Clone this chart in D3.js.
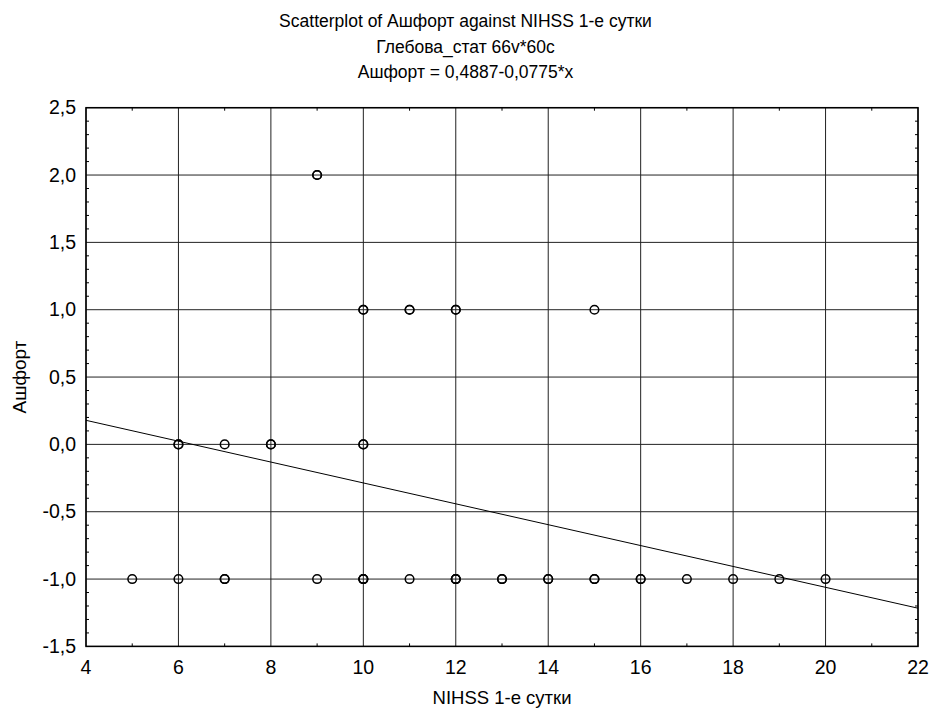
<!DOCTYPE html>
<html>
<head>
<meta charset="utf-8">
<script src="https://cdn.jsdelivr.net/npm/d3@7"></script>
<style>
  body { margin: 0; background: #fff; }
  text { font-family: "Liberation Sans", Arial, sans-serif; fill: #000; }
</style>
</head>
<body>
<div id="chart"></div>
<script>
// Titles
const titleLines = [
    "Scatterplot of Ашфорт against NIHSS 1-е сутки",
    "Глебова_стат 66v*60c",
    "Ашфорт = 0,4887-0,0775*x"
];
const xLabel = "NIHSS 1-е сутки";
const yLabel = "Ашфорт";

// Observations (repeated values overlap on the plot)
const xValues = [
    5, 6, 7, 7, 9, 10, 10, 10, 11, 12, 12, 12, 13, 13, 14, 14, 15, 15, 16, 16, 17, 18, 19, 20,
    6, 6, 7, 8, 8, 10, 10,
    10, 10, 11, 11, 12, 12, 15,
    9, 9
];
const yValues = [
    -1, -1, -1, -1, -1, -1, -1, -1, -1, -1, -1, -1, -1, -1, -1, -1, -1, -1, -1, -1, -1, -1, -1, -1,
    0, 0, 0, 0, 0, 0, 0,
    1, 1, 1, 1, 1, 1, 1,
    2, 2
];

// Regression line
const intercept = 0.4887;
const slope = -0.0775;

// Axis ticks
const xTicks = [4, 6, 8, 10, 12, 14, 16, 18, 20, 22];
const xMinorTicks = [5, 7, 9, 11, 13, 15, 17, 19, 21];
const yTicks = [-1.5, -1.0, -0.5, 0.0, 0.5, 1.0, 1.5, 2.0, 2.5];
const yMinorTicks = d3.range(-15, 26).filter(v => v % 5 !== 0).map(v => v / 10);

// Svg size
const svgWidth = 931;
const svgHeight = 710;

// Plot margins
const margin = { top: 107.7, right: 13, bottom: 63.6, left: 86 };
const width = svgWidth - margin.left - margin.right;
const height = svgHeight - margin.top - margin.bottom;

const fmt = v => d3.format(".1f")(v).replace(".", ",").replace("−", "-");

const svg = d3.select("#chart")
              .append("svg")
              .attr("width", svgWidth)
              .attr("height", svgHeight);

// Titles
svg.append("g")
   .selectAll("text")
   .data(titleLines)
   .enter()
   .append("text")
   .attr("x", svgWidth / 2)
   .attr("y", (d, i) => 27 + i * 25.7)
   .attr("text-anchor", "middle")
   .style("font-size", "17.5px")
   .text(d => d);

const chart = svg.append("g")
                 .attr("transform", `translate(${margin.left}, ${margin.top})`);

const x = d3.scaleLinear().domain([4, 22]).range([0, width]);
const y = d3.scaleLinear().domain([-1.5, 2.5]).range([height, 0]);

// Grid lines
chart.append("g")
     .selectAll("line")
     .data(xTicks)
     .enter()
     .append("line")
     .attr("x1", d => x(d)).attr("x2", d => x(d))
     .attr("y1", 0).attr("y2", height)
     .attr("stroke", "#222").attr("stroke-width", 1);

chart.append("g")
     .selectAll("line")
     .data(yTicks)
     .enter()
     .append("line")
     .attr("x1", 0).attr("x2", width)
     .attr("y1", d => y(d)).attr("y2", d => y(d))
     .attr("stroke", "#222").attr("stroke-width", 1);

// Minor ticks (inside, on all four sides)
const tickLen = 3;
const minor = chart.append("g").attr("stroke", "#000").attr("stroke-width", 1);
xMinorTicks.forEach(v => {
    minor.append("line").attr("x1", x(v)).attr("x2", x(v)).attr("y1", height).attr("y2", height - tickLen);
    minor.append("line").attr("x1", x(v)).attr("x2", x(v)).attr("y1", 0).attr("y2", tickLen);
});
yMinorTicks.forEach(v => {
    minor.append("line").attr("x1", 0).attr("x2", tickLen).attr("y1", y(v)).attr("y2", y(v));
    minor.append("line").attr("x1", width).attr("x2", width - tickLen).attr("y1", y(v)).attr("y2", y(v));
});

// Frame
chart.append("rect")
     .attr("width", width)
     .attr("height", height)
     .attr("fill", "none")
     .attr("stroke", "#000")
     .attr("stroke-width", 1.5);

// Tick labels
chart.append("g")
     .selectAll("text")
     .data(xTicks)
     .enter()
     .append("text")
     .attr("x", d => x(d))
     .attr("y", height + 27.6)
     .attr("text-anchor", "middle")
     .style("font-size", "19.5px")
     .text(d => d);

chart.append("g")
     .selectAll("text")
     .data(yTicks)
     .enter()
     .append("text")
     .attr("x", -10)
     .attr("y", d => y(d) + 6.7)
     .attr("text-anchor", "end")
     .style("font-size", "19.5px")
     .text(d => fmt(d));

// Regression line
const lineX = x.domain();
chart.append("line")
     .attr("x1", x(lineX[0]))
     .attr("y1", y(intercept + slope * lineX[0]))
     .attr("x2", x(lineX[1]))
     .attr("y2", y(intercept + slope * lineX[1]))
     .attr("stroke", "#000")
     .attr("stroke-width", 1);

// Points
chart.append("g")
     .selectAll("circle")
     .data(xValues.map((v, i) => [v, yValues[i]]))
     .enter()
     .append("circle")
     .attr("cx", d => x(d[0]))
     .attr("cy", d => y(d[1]))
     .attr("r", 4.3)
     .attr("fill", "none")
     .attr("stroke", "#000")
     .attr("stroke-width", 1.5);

// Axis labels
svg.append("text")
   .attr("x", margin.left + width / 2)
   .attr("y", 704)
   .attr("text-anchor", "middle")
   .style("font-size", "18.5px")
   .text(xLabel);

svg.append("text")
   .attr("transform", `translate(26, ${margin.top + height / 2}) rotate(-90)`)
   .attr("text-anchor", "middle")
   .style("font-size", "19px")
   .text(yLabel);
</script>
</body>
</html>
